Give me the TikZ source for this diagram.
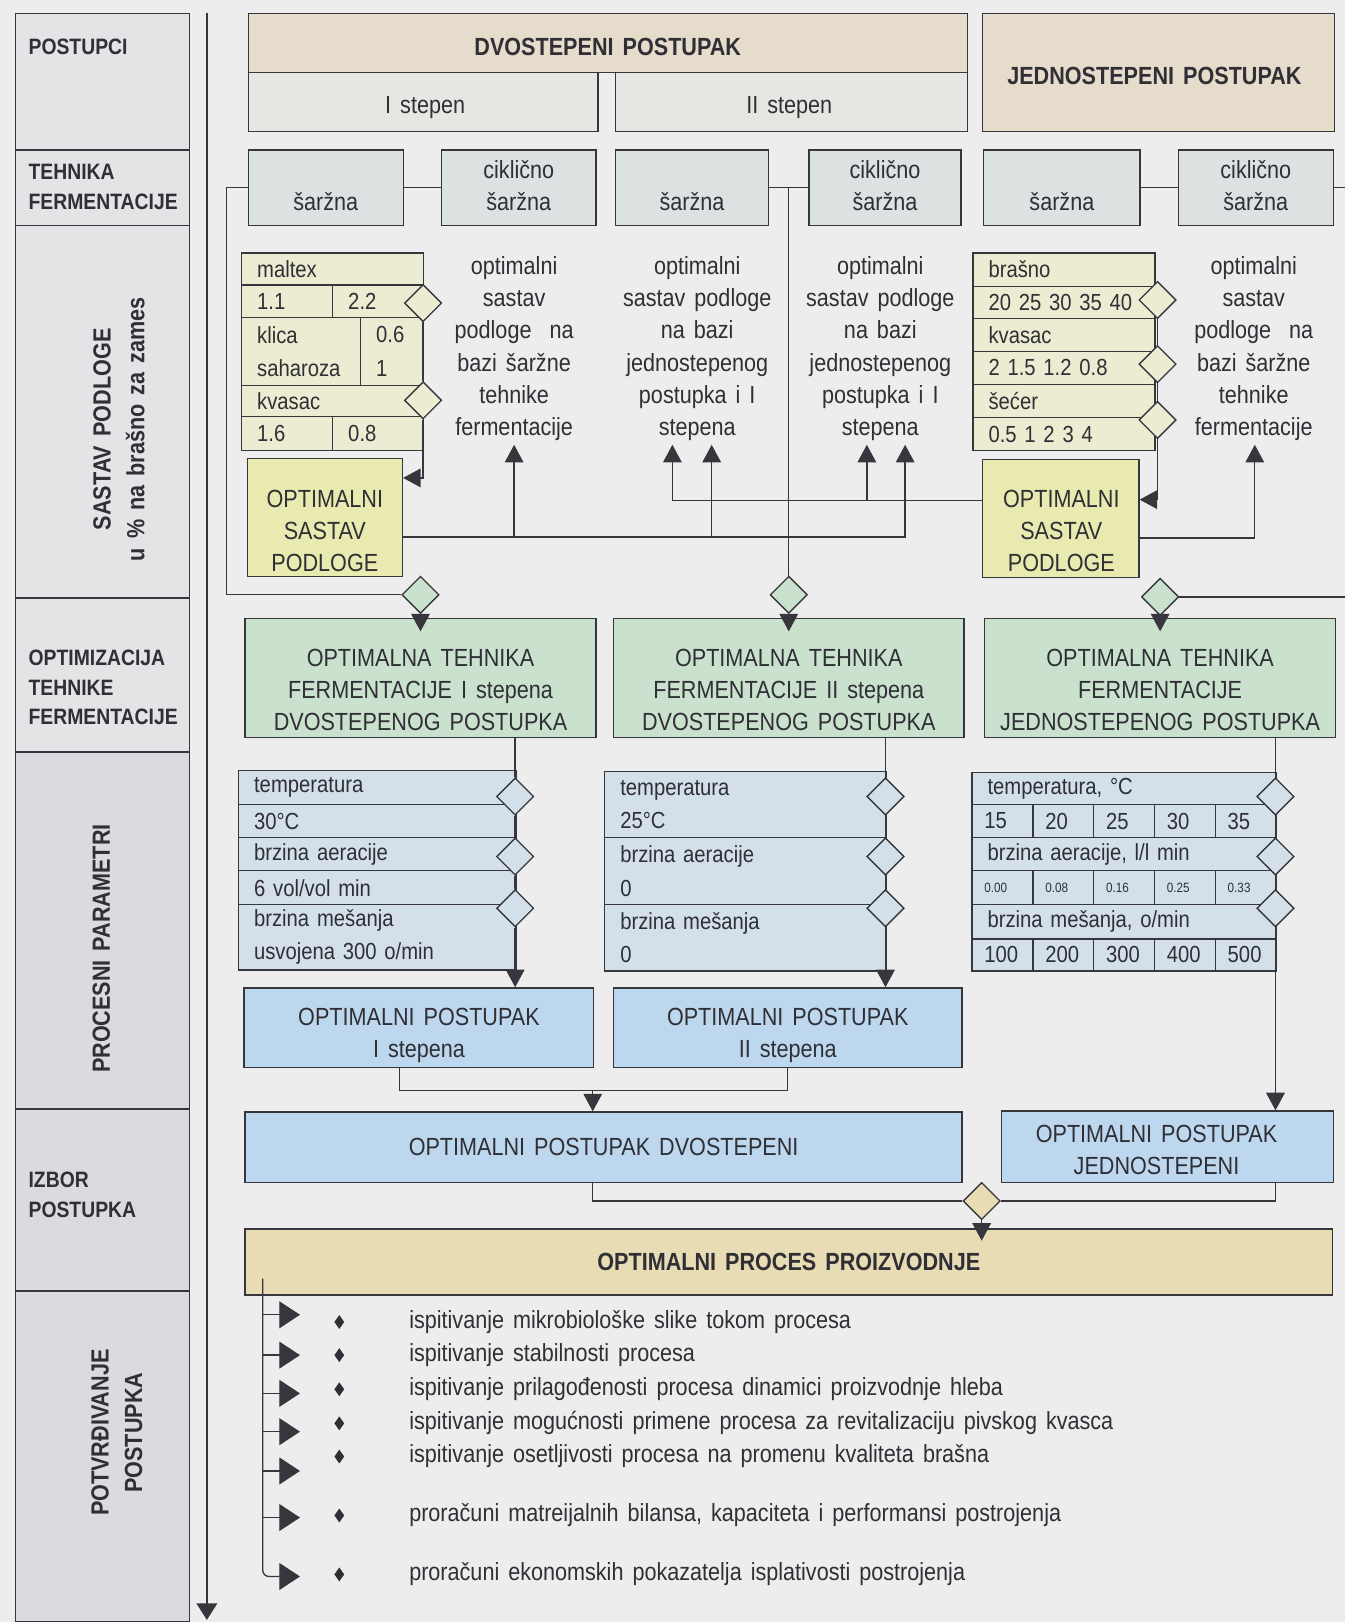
\documentclass[tikz,border=0pt]{standalone}
\usepackage{fontspec}
\setmainfont{Liberation Sans}[FakeStretch=0.87,WordSpace=1.5]
\usetikzlibrary{arrows.meta}
\usetikzlibrary{shapes.geometric}

\definecolor{bgc}{HTML}{EDEDED}
\definecolor{linec}{HTML}{36363C}
\definecolor{txtc}{HTML}{2F2F35}
\definecolor{tanc}{HTML}{E5DCCB}
\definecolor{stepc}{HTML}{E6E6E2}
\definecolor{sarc}{HTML}{DCE2E2}
\definecolor{tabyc}{HTML}{ECECD2}
\definecolor{optyc}{HTML}{E8EAAF}
\definecolor{grnc}{HTML}{C9E1CD}
\definecolor{tabbc}{HTML}{D3E0EA}
\definecolor{bluc}{HTML}{BDD8EE}
\definecolor{procc}{HTML}{E8DCB4}
\definecolor{colac}{HTML}{E4E4E6}
\definecolor{colbc}{HTML}{DADBDF}

\newcommand{\bodyf}{\fontsize{24}{31}\selectfont}
\newcommand{\tabf}{\fontsize{22.5}{32}\selectfont}
\newcommand{\headf}{\fontsize{24}{30}\selectfont\bfseries}
\newcommand{\colf}{\fontsize{21.5}{28.5}\selectfont\bfseries}
\newcommand{\rotf}{\fontsize{24}{32.5}\selectfont\bfseries}
\newcommand{\numf}{\fontsize{13}{15}\selectfont}

\tikzset{
  lined/.style={draw=linec, line width=1.3pt, inner sep=0pt},
  panel/.style n args={3}{lined, fill=#1, minimum width=#2, minimum height=#3, align=center, font=\bodyf, text=txtc},
  tcell/.style n args={3}{lined, fill=#1, anchor=north west, minimum width=#2, text width=#2-30, minimum height=#3, inner xsep=15pt, align=left, font=\tabf, text=txtc},
  txt/.style={inner sep=0pt, align=center, font=\bodyf, text=txtc},
  coltxt/.style={inner sep=0pt, anchor=west, align=left, font=\colf, text=txtc},
  rottxt/.style={inner sep=0pt, rotate=90, align=center, font=\rotf, text=txtc},
  dia/.style={diamond, lined, fill=#1, minimum width=36pt, minimum height=36pt},
  bul/.style={diamond, fill=txtc, inner sep=0pt, minimum width=10pt, minimum height=14pt},
  arr/.style={-{Triangle[length=17pt,width=18pt]}},
  lisarr/.style={-{Triangle[length=20pt,width=26pt]}}
}

\begin{document}
\begin{tikzpicture}[x=1pt,y=-1pt,line width=1.3pt,color=linec]
\useasboundingbox (0,0) rectangle (1300,1568);
\fill[bgc] (0,0) rectangle (1300,1568);

% left column
\node[panel={colac}{168}{132}] (lc1) at (99,79) {};
\node[panel={colac}{168}{73}] (lc2) at (99,181.5) {};
\node[panel={colac}{168}{360}] (lc3) at (99,398) {};
\node[panel={colac}{168}{149}] (lc4) at (99,652.5) {};
\node[panel={colbc}{168}{345}] (lc5) at (99,899.5) {};
\node[panel={colbc}{168}{176}] (lc6) at (99,1160) {};
\node[panel={colbc}{168}{320}] (lc7) at (99,1408) {};

\node[coltxt] (lc1t) at (27,45) {POSTUPCI};
\node[coltxt] (lc2t) at (27,180.5) {TEHNIKA\\FERMENTACIJE};
\node[rottxt] (lc3t) at (115,415) {SASTAV PODLOGE\\u \% na brašno za zames};
\node[coltxt] (lc4t) at (27,664.5) {OPTIMIZACIJA\\TEHNIKE\\FERMENTACIJE};
\node[rottxt] (lc5t) at (98,917) {PROCESNI PARAMETRI};
\node[coltxt] (lc6t) at (27,1155) {IZBOR\\POSTUPKA};
\node[rottxt] (lc7t) at (113,1385) {POTVRĐIVANJE\\POSTUPKA};

\coordinate (axt) at (200,13);
\coordinate (axb) at (200,1566);
\draw[-{Triangle[length=16pt,width=20pt]}] (axt) -- (axb);

% postupci
\node[panel={tanc}{695}{57}] (dv) at (587.5,41.5) {};
\node[txt, font=\headf] (dvt) at (587.5,45) {DVOSTEPENI POSTUPAK};
\node[panel={stepc}{338}{57}] (st1) at (409,98.5) {};
\node[txt] (st1t) at (411,104) {I stepen};
\node[panel={stepc}{340}{57}] (st2) at (765,98.5) {};
\node[txt] (st2t) at (763,104) {II stepen};
\node[panel={tanc}{340}{114}] (jd) at (1120,70) {};
\node[txt, font=\headf] (jdt) at (1116,73) {JEDNOSTEPENI POSTUPAK};

% tehnika fermentacije
\node[panel={sarc}{150}{73}] (s1) at (315,181.5) {\strut\\šaržna\strut};
\node[panel={sarc}{149}{73}] (s2) at (501.5,181.5) {\strut ciklično\\šaržna\strut};
\node[panel={sarc}{148}{73}] (s3) at (669,181.5) {\strut\\šaržna\strut};
\node[panel={sarc}{147}{73}] (s4) at (855.5,181.5) {\strut ciklično\\šaržna\strut};
\node[panel={sarc}{151}{73}] (s5) at (1026.5,181.5) {\strut\\šaržna\strut};
\node[panel={sarc}{150}{73}] (s6) at (1214,181.5) {\strut ciklično\\šaržna\strut};

% sastav podloge
\node[tcell={tabyc}{176}{31}] (t1a) at (233,244) {maltex};
\node[tcell={tabyc}{88}{31}] (t1b) at (233,275) {1.1};
\node[tcell={tabyc}{88}{31}] (t1c) at (321,275) {2.2};
\node[tcell={tabyc}{115}{66}] (t1d) at (233,306) {klica\\saharoza};
\node[tcell={tabyc}{61}{66}] (t1e) at (348,306) {0.6\\1};
\node[tcell={tabyc}{176}{30}] (t1f) at (233,372) {kvasac};
\node[tcell={tabyc}{88}{33}] (t1g) at (233,402) {1.6};
\node[tcell={tabyc}{88}{33}] (t1h) at (321,402) {0.8};
\node[dia=tabyc] (d1) at (409,293) {};
\node[dia=tabyc] (d2) at (409,387) {};

\node[tcell={tabyc}{176}{32}] (u1) at (940,244) {brašno};
\node[tcell={tabyc}{176}{31}] (u2) at (940,276) {20 25 30 35 40};
\node[tcell={tabyc}{176}{32}] (u3) at (940,307) {kvasac};
\node[tcell={tabyc}{176}{32}] (u4) at (940,339) {2 1.5 1.2 0.8};
\node[tcell={tabyc}{176}{32}] (u5) at (940,371) {šećer};
\node[tcell={tabyc}{176}{32}] (u6) at (940,403) {0.5 1 2 3 4};
\node[dia=tabyc] (e1) at (1119,290) {};
\node[dia=tabyc] (e2) at (1119,352) {};
\node[dia=tabyc] (e3) at (1119,406) {};

\node[txt] (tx1) at (497,337) {optimalni\\sastav\\podloge~~na\\bazi šaržne\\tehnike\\fermentacije};
\node[txt] (tx2) at (674,337) {optimalni\\sastav podloge\\na bazi\\jednostepenog\\postupka i I\\stepena};
\node[txt] (tx3) at (851,337) {optimalni\\sastav podloge\\na bazi\\jednostepenog\\postupka i I\\stepena};
\node[txt] (tx4) at (1212,337) {optimalni\\sastav\\podloge~~na\\bazi šaržne\\tehnike\\fermentacije};

\node[panel={optyc}{150}{114}] (o1) at (314,500) {};
\node[txt] (o1t) at (314,513) {OPTIMALNI\\SASTAV\\PODLOGE};
\node[panel={optyc}{151}{114}] (o2) at (1025.5,501) {};
\node[txt] (o2t) at (1026,513) {OPTIMALNI\\SASTAV\\PODLOGE};

\coordinate (a1) at (497,430);
\coordinate (a2) at (688,430);
\coordinate (a3) at (875,430);
\coordinate (a4) at (650,430);
\coordinate (a5) at (838,430);
\coordinate (a6) at (1213,430);

\draw (d1) -- (d2);
\draw[arr] (d2.south) |- ([yshift=38pt]o1.east);
\draw (e1) -- (e2);
\draw (e2) -- (e3);
\draw[arr] (e3.south) |- ([yshift=18pt]o2.east);

\coordinate (o1lo) at ([yshift=-19pt]o1.east);
\coordinate (o2hi) at ([yshift=17pt]o2.west);
\coordinate (o2lo) at ([yshift=-19pt]o2.east);
\draw[arr] (o1lo) -| (a3);
\draw[arr] (o1lo -| a1) -- (a1);
\draw[arr] (o1lo -| a2) -- (a2);
\draw[arr] (o2hi) -| (a4);
\draw[arr] (o2hi -| a5) -- (a5);
\draw[arr] (o2lo) -| (a6);

% optimizacija tehnike
\node[dia=grnc] (dg1) at (406.5,575) {};
\node[dia=grnc] (dg2) at (762.5,575) {};
\node[dia=grnc] (dg3) at (1121.5,577) {};

\coordinate (lp) at (219,575);
\coordinate (rg1) at (1300,181.5);
\coordinate (rg2) at (1300,577);
\draw (s1.west) -| (lp) -- (dg1.west);
\draw (s1) -- (s2);
\draw (s3) -- (s4);
\draw (s3.east -| dg2) -- (dg2.north);
\draw (s5) -- (s6);
\draw (s6.east) -- (rg1);
\draw (dg3.east) -- (rg2);

\node[panel={grnc}{339}{115}] (g1) at (406.5,655.5) {};
\node[txt] (g1t) at (406.5,667) {OPTIMALNA TEHNIKA\\FERMENTACIJE I stepena\\DVOSTEPENOG POSTUPKA};
\node[panel={grnc}{339}{115}] (g2) at (762.5,655.5) {};
\node[txt] (g2t) at (762.5,667) {OPTIMALNA TEHNIKA\\FERMENTACIJE II stepena\\DVOSTEPENOG POSTUPKA};
\node[panel={grnc}{339}{115}] (g3) at (1121.5,655.5) {};
\node[txt] (g3t) at (1121.5,667) {OPTIMALNA TEHNIKA\\FERMENTACIJE\\JEDNOSTEPENOG POSTUPKA};

\draw[arr] (dg1.south) -- ([yshift=-13pt]g1.north);
\draw[arr] (dg2.south) -- ([yshift=-13pt]g2.north);
\draw[arr] (dg3.south) -- ([yshift=-13pt]g3.north);

% procesni parametri
\node[tcell={tabbc}{268}{33}] (p1a) at (230,744) {temperatura};
\node[tcell={tabbc}{268}{32}] (p1b) at (230,777) {30°C};
\node[tcell={tabbc}{268}{32}] (p1c) at (230,809) {brzina aeracije};
\node[tcell={tabbc}{268}{33}] (p1d) at (230,841) {6 vol/vol min};
\node[tcell={tabbc}{268}{63}] (p1e) at (230,874) {brzina mešanja\\usvojena 300 o/min};
\node[dia=tabbc] (q1) at (498,770) {};
\node[dia=tabbc] (q2) at (498,828) {};
\node[dia=tabbc] (q3) at (498,878) {};

\node[tcell={tabbc}{272}{64}] (p2a) at (584,745) {temperatura\\25°C};
\node[tcell={tabbc}{272}{65}] (p2b) at (584,809) {brzina aeracije\\0};
\node[tcell={tabbc}{272}{64}] (p2c) at (584,874) {brzina mešanja\\0};
\node[dia=tabbc] (r1) at (856,770) {};
\node[dia=tabbc] (r2) at (856,828) {};
\node[dia=tabbc] (r3) at (856,878) {};

\node[tcell={tabbc}{294}{31}] (p3a) at (939,746) {temperatura, °C};
\foreach \v [count=\i from 0] in {15,20,25,30,35}
  \node[tcell={tabbc}{58.8}{32}, inner xsep=12pt, text width=34.8] (pt\i) at ({939+58.8*\i},777) {\v};
\node[tcell={tabbc}{294}{32}] (p3c) at (939,809) {brzina aeracije, l/l min};
\foreach \v [count=\i from 0] in {0.00,0.08,0.16,0.25,0.33}
  \node[tcell={tabbc}{58.8}{33}, inner xsep=12pt, text width=34.8, font=\numf] (pv\i) at ({939+58.8*\i},841) {\v};
\node[tcell={tabbc}{294}{33}] (p3e) at (939,874) {brzina mešanja, o/min};
\foreach \v [count=\i from 0] in {100,200,300,400,500}
  \node[tcell={tabbc}{58.8}{31}, inner xsep=12pt, text width=34.8] (pm\i) at ({939+58.8*\i},907) {\v};
\node[dia=tabbc] (w1) at (1233,770) {};
\node[dia=tabbc] (w2) at (1233,828) {};
\node[dia=tabbc] (w3) at (1233,878) {};

\node[panel={bluc}{338}{77}] (op1) at (405,993.5) {};
\node[txt] (op1t) at (405,1000.5) {OPTIMALNI POSTUPAK\\I stepena};
\node[panel={bluc}{337}{77}] (op2) at (761.5,993.5) {};
\node[txt] (op2t) at (761.5,1000.5) {OPTIMALNI POSTUPAK\\II stepena};

\draw (g1.south -| q1) -- (q1.north);
\draw (q1) -- (q2);
\draw (q2) -- (q3);
\draw[arr] (q3.south) -- (op1.north -| q3);
\draw (g2.south -| r1) -- (r1.north);
\draw (r1) -- (r2);
\draw (r2) -- (r3);
\draw[arr] (r3.south) -- (op2.north -| r3);
\draw (g3.south -| w1) -- (w1.north);
\draw (w1) -- (w2);
\draw (w2) -- (w3);

% izbor postupka
\node[panel={bluc}{693}{68}] (dvb) at (583.5,1109) {OPTIMALNI POSTUPAK DVOSTEPENI};
\node[panel={bluc}{321}{69}] (opj) at (1128.5,1108.5) {};
\node[txt] (opjt) at (1118,1112) {OPTIMALNI POSTUPAK\\JEDNOSTEPENI};
\node[dia=procc] (dz) at (949,1161) {};
\node[panel={procc}{1051}{64}, font=\headf] (pp) at (762.5,1220) {OPTIMALNI PROCES PROIZVODNJE};

\coordinate (mj) at (573,1054);
\coordinate (ppin) at (pp.north -| dz);
\draw ([xshift=-19pt]op1.south) |- (op2.south |- mj) -- (op2.south);
\draw[arr] (mj) -- (dvb.north -| mj);
\draw[arr] (w3.south) -- (opj.north -| w3);
\draw (dvb.south -| mj) |- (dz.west);
\draw (opj.south -| w3) |- (dz.east);
\draw[arr] (dz.south) -- ([yshift=-12pt]ppin);

% potvrdjivanje
\coordinate (ltop) at (254,1236);
\foreach \yy/\ya/\itm [count=\i] in {
  1278/1271/{ispitivanje mikrobiološke slike tokom procesa},
  1310/1310/{ispitivanje stabilnosti procesa},
  1343/1347/{ispitivanje prilagođenosti procesa dinamici proizvodnje hleba},
  1376/1384/{ispitivanje mogućnosti primene procesa za revitalizaciju pivskog kvasca},
  1408/1422/{ispitivanje osetljivosti procesa na promenu kvaliteta brašna},
  1465/1467/{proračuni matreijalnih bilansa, kapaciteta i performansi postrojenja},
  1522/1524/{proračuni ekonomskih pokazatelja isplativosti postrojenja}}
{
  \coordinate (ls\i) at (254,\ya);
  \coordinate (le\i) at (290,\ya);
  \node[bul] (bu\i) at (328,\yy) {};
  \node[txt, anchor=west] (it\i) at (395,\yy) {\itm};
}
\foreach \i in {1,...,6}
  \draw[lisarr] (ls\i) -- (le\i);
\draw[lisarr, rounded corners=6pt] (ltop) |- (le7);
\end{tikzpicture}
\end{document}
